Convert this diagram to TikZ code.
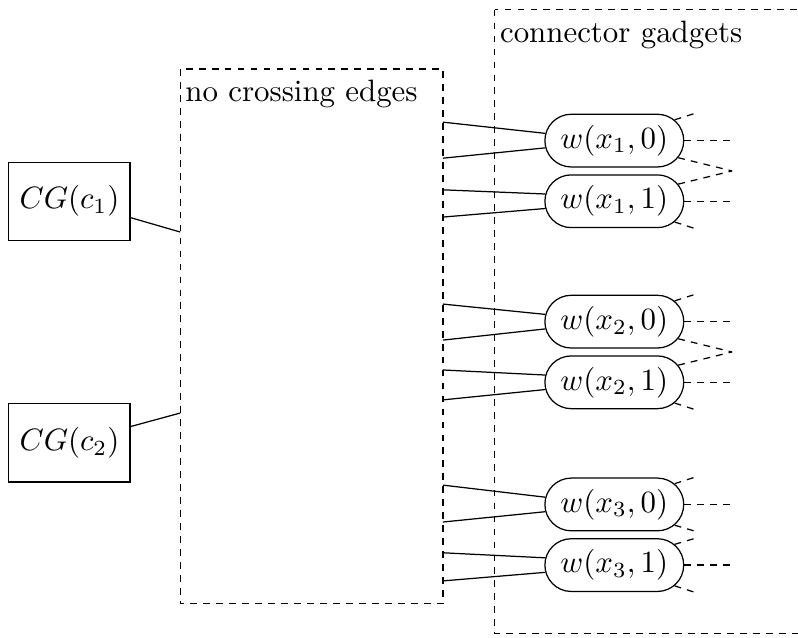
\documentclass[tikz,border=0pt]{standalone}
\usetikzlibrary{shapes.misc}

\begin{document}
\begin{tikzpicture}[
    cgbox/.style={rectangle, draw, minimum width=1.38cm, minimum height=0.89cm, inner sep=2pt},
    gadget/.style={rounded rectangle, draw, minimum width=1.65cm, minimum height=0.6cm, inner xsep=1pt, inner ysep=0pt},
    region/.style={draw, dash pattern=on 2.2pt off 2pt},
    stub/.style={dash pattern=on 2.2pt off 2pt},
    boxlabel/.style={anchor=north west, inner xsep=1.5pt}
]

\useasboundingbox (0,0) rectangle (9.08,-7.25);

% --- Clause gadgets ---
\node[cgbox] (cg1) at (0.79,-2.29) {$CG(c_1)$};
\node[cgbox] (cg2) at (0.79,-5.04) {$CG(c_2)$};

% --- Regions ---
\draw[region] (2.05,-0.785) rectangle (5.04,-6.87);
\node[boxlabel] (nocross) at (2.05,-0.785) {no crossing edges};
\draw[region] (5.63,-0.11) rectangle (9.4,-7.21);
\node[boxlabel] (conn) at (5.63,-0.11) {connector gadgets};

% --- Connector gadgets ---
\foreach \i/\y in {1/-1.60, 2/-3.66, 3/-5.74}
{
    \node[gadget] (w\i0) at (6.99,\y) {$w(x_\i,0)$};
    \node[gadget] (w\i1) at (6.99,{\y-0.69}) {$w(x_\i,1)$};
}

% --- Clause gadgets into the plane ---
\coordinate (in1) at (2.05,-2.64);
\coordinate (in2) at (2.05,-4.70);
\draw (cg1.-15) -- (in1);
\draw (cg2.15) -- (in2);

% --- Plane out to the connector gadgets ---
\foreach \n/\a/\b in {10/-1.39/-1.80, 11/-2.16/-2.47, 20/-3.46/-3.87, 21/-4.21/-4.55, 30/-5.52/-5.94, 31/-6.29/-6.61}
{
    \coordinate (o\n-a) at (5.04,\a);
    \coordinate (o\n-b) at (5.04,\b);
    \draw (o\n-a) -- (w\n.174);
    \draw (o\n-b) -- (w\n.186);
}

% --- Dashed stubs ---
\foreach \i in {1,2,3}
{
    \foreach \j in {0,1}
    {
        \coordinate (e\i\j) at ([xshift=0.58cm]w\i\j.east);
        \draw[stub] (w\i\j.east) -- (e\i\j);
    }
    \coordinate (n\i) at ([shift={(0.25,0.08)}]w\i0.19);
    \coordinate (s\i) at ([shift={(0.25,-0.08)}]w\i1.-19);
    \draw[stub] (w\i0.19) -- (n\i);
    \draw[stub] (w\i1.-19) -- (s\i);
}

% --- Shared neighbours of the two copies ---
\coordinate (m1) at (8.33,-1.945);
\coordinate (m2) at (8.33,-4.005);
\foreach \i in {1,2}
{
    \draw[stub] (w\i0.-15) -- (m\i);
    \draw[stub] (w\i1.15) -- (m\i);
}
\coordinate (u3) at ([shift={(0.24,-0.07)}]w30.-19);
\coordinate (d3) at ([shift={(0.24,0.07)}]w31.19);
\draw[stub] (w30.-19) -- (u3);
\draw[stub] (w31.19) -- (d3);

\end{tikzpicture}
\end{document}
